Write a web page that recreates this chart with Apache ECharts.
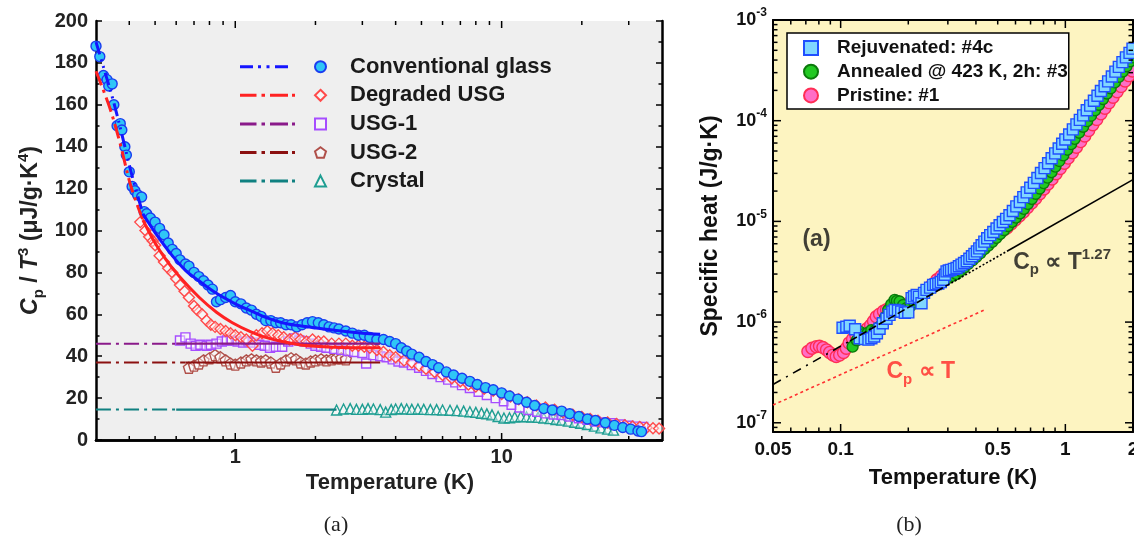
<!DOCTYPE html>
<html><head><meta charset="utf-8">
<script src="https://cdn.jsdelivr.net/npm/echarts@6/dist/echarts.min.js"></script>
<style>html,body{margin:0;padding:0;background:#fff}#c{width:1134px;height:541px}</style>
</head><body><div id="c"></div>
<script>
// ---------------- Panel (a): Cp/T^3 vs T ----------------
const conventionalGlass = [[0.30,188],[0.31,183],[0.32,174],[0.33,172],[0.335,169],[0.345,170],[0.35,160],[0.36,150],[0.37,151],[0.375,148],[0.385,140],[0.39,136],[0.40,128],[0.41,121],[0.42,119],[0.43,117],[0.445,116],[0.455,109],[0.465,108],[0.48,106],[0.50,104],[0.52,101],[0.54,98],[0.56,94],[0.58,91],[0.60,89],[0.62,86],[0.65,84],[0.67,83],[0.70,80],[0.73,78],[0.76,76],[0.79,74],[0.82,72],[0.85,66],[0.88,67],[0.92,68],[0.96,69],[1.0,66],[1.05,65],[1.1,63],[1.15,62],[1.2,60],[1.25,59],[1.3,57],[1.36,57],[1.42,56],[1.48,56],[1.55,55],[1.62,55],[1.7,54],[1.78,55],[1.86,56],[1.95,56.5],[2.05,56],[2.15,55],[2.25,54],[2.35,53.5],[2.45,53],[2.6,52],[2.75,51],[2.9,50],[3.05,50],[3.2,49],[3.4,48],[3.6,48],[3.8,47],[4.0,46],[4.2,44],[4.4,42.5],[4.6,41],[4.9,39.5],[5.2,37.5],[5.5,36],[5.8,34.5],[6.2,32.5],[6.6,31],[7.1,29.5],[7.6,28],[8.1,26.5],[8.7,25],[9.3,24],[10,22.5],[10.7,21],[11.5,19.5],[12.4,18],[13.3,16.5],[14.4,15],[15.5,14.3],[16.8,13.8],[18,12.5],[19.5,11.2],[21,10],[22.5,9.3],[24.5,8.2],[26.5,7.0],[28.5,6.0],[30.5,5.2],[32.5,4.3],[33.5,4.0]];
const degradedUSG = [[0.44,104],[0.46,100],[0.475,97],[0.49,95],[0.50,93],[0.52,88],[0.54,85],[0.56,82],[0.58,80],[0.60,77],[0.62,74],[0.645,71],[0.67,68],[0.70,64],[0.72,62],[0.75,60],[0.78,57],[0.81,55],[0.84,54],[0.88,53],[0.92,52],[0.96,51],[1.0,50],[1.05,49],[1.1,48],[1.16,45],[1.2,50],[1.26,51],[1.32,52],[1.38,51],[1.45,50],[1.52,49],[1.6,48],[1.68,49],[1.76,48],[1.85,47],[1.95,48],[2.05,47],[2.15,47],[2.3,46],[2.45,46],[2.6,46],[2.75,45],[2.9,45],[3.05,44.5],[3.2,44],[3.4,43],[3.6,42],[3.8,40.5],[4.0,39.5],[4.3,38],[4.6,37],[4.9,35.5],[5.2,34],[5.6,32.5],[6.0,31],[6.5,29.5],[7.0,28],[7.5,26.5],[8.0,25.5],[8.6,24.5],[9.3,23.5],[10,22],[10.8,20.8],[11.6,19.5],[12.5,18],[13.5,16.5],[14.6,15.5],[15.8,14.5],[17,13.3],[18.5,12],[20,11],[21.5,10],[23,9.2],[25,8.3],[27,7.6],[29,7],[31,6.5],[33,6.2],[35,5.8],[37,5.6],[39,5.5]];
const usg1 = [[0.62,47.5],[0.65,49],[0.68,46],[0.71,45],[0.74,45.5],[0.78,45],[0.81,45.5],[0.85,46],[0.89,47],[0.93,47.5],[0.97,47.5],[1.02,47],[1.07,46.5],[1.12,47],[1.17,46.5],[1.23,45.5],[1.29,45],[1.35,44],[1.42,44.5],[1.5,44.5],[1.58,47],[1.66,48.5],[1.74,47.5],[1.82,47],[1.92,46],[2.0,45],[2.1,44.5],[2.2,44],[2.35,43.5],[2.5,43],[2.65,42.5],[2.8,42],[3.0,41.5],[3.1,36.5],[3.3,40.5],[3.5,40],[3.7,39.5],[3.9,38.5],[4.1,37.5],[4.3,37],[4.6,35.8],[4.9,34.5],[5.2,33],[5.5,31.5],[5.9,30],[6.3,28.8],[6.7,27.5],[7.1,26.2],[7.6,24.8],[8.2,23],[8.8,21.5],[9.5,20],[10.2,18.5],[10.9,16.8],[11.7,15.5],[12.6,14.3],[13.6,13.5],[14.6,12.7],[15.7,12.2],[16.8,11.9],[18,11.2],[19.5,10.4],[21,9.6],[22.5,8.8],[24,8.4],[26,8],[28,7.4],[30,6.8],[32,6.4],[34,6.2]];
const usg2 = [[0.67,34.5],[0.70,35.5],[0.73,36.5],[0.76,38],[0.80,39],[0.84,40.5],[0.88,39.5],[0.92,38],[0.96,36.5],[1.0,36],[1.05,37],[1.1,38],[1.15,38.5],[1.2,38],[1.25,37.5],[1.3,38],[1.36,37],[1.42,35],[1.48,36.5],[1.55,38],[1.62,39],[1.69,38.5],[1.76,37],[1.84,36.5],[1.92,37.5],[2.0,38],[2.1,38.5],[2.2,38],[2.3,38.5],[2.4,39],[2.5,39],[2.6,38.5]];
const crystal = [[2.4,14.3],[2.55,14.8],[2.7,15],[2.85,14.6],[3.0,14.6],[3.15,15],[3.3,14.8],[3.5,14.5],[3.67,13.3],[3.85,14.5],[4.0,14.8],[4.2,15],[4.4,14.8],[4.6,14.6],[4.85,14.8],[5.1,14.6],[5.4,14.5],[5.7,14.5],[6.0,14.3],[6.4,14.2],[6.8,14],[7.2,13.8],[7.6,13.5],[8.0,13.2],[8.4,12.8],[8.8,12.5],[9.2,12],[9.7,11.2],[10.2,10.5],[10.7,10.6],[11.2,11],[11.8,11.2],[12.4,11.1],[13,11],[13.7,10.8],[14.4,10.5],[15.2,10.2],[16,9.8],[16.8,9.5],[17.8,9],[18.8,8.5],[19.8,8],[21,7.4],[22.3,6.6],[23.6,5.8],[25,5.2],[26.3,4.7]];
// fit lines (extrapolated part drawn dash-dot, fitted part solid)
const glassFitExtrap = [[0.30,190],[0.32,178],[0.35,161],[0.38,143],[0.41,126],[0.45,108]];
const glassFit = [[0.45,108],[0.5,99],[0.58,88],[0.65,81],[0.73,76],[0.85,70],[1.0,65],[1.15,61.5],[1.3,58.5],[1.5,56],[1.75,54.5],[2.0,53.5],[2.5,52],[3.0,51],[3.5,50.5]];
const degradedFitExtrap = [[0.30,176],[0.337,159],[0.367,143],[0.406,121],[0.45,105]];
const degradedFit = [[0.45,105],[0.5,94],[0.55,86],[0.617,78],[0.733,68],[0.85,61],[0.975,56],[1.15,51.5],[1.3,49],[1.5,47],[1.74,45.5],[2.0,44.8],[2.5,44.2],[3.0,44],[3.5,44]];
const usg1FitExtrap = [[0.3,46],[0.6,46]];
const usg1Fit = [[0.6,46],[3.5,46]];
const usg2FitExtrap = [[0.3,37],[0.65,37]];
const usg2Fit = [[0.65,37],[3.5,37]];
const crystalFitExtrap = [[0.3,14.5],[0.6,14.5]];
const crystalFit = [[0.6,14.5],[2.4,14.5]];
const leftNames = ['Conventional glass','Degraded USG','USG-1','USG-2','Crystal'];
const leftXMinorTicks = [0.4,0.5,0.6,0.7,0.8,0.9,2,3,4,5,6,7,8,9,20,30];
const leftXMajorTicks = [1,10];

// ---------------- Panel (b): Cp vs T (log-log) ----------------
const rejuvenated = [[0.102,8.8e-7],[0.106,9.0e-7],[0.1097,9.2e-7],[0.116,8.5e-7],[0.1216,6.9e-7],[0.128,6.8e-7],[0.133,6.7e-7],[0.137,6.9e-7],[0.141,7.2e-7],[0.145,7.75e-7],[0.149,8.6e-7],[0.154,9.75e-7],[0.16,1.08e-6],[0.165,1.18e-6],[0.17,1.27e-6],[0.174,1.32e-6],[0.18,1.3e-6],[0.186,1.27e-6],[0.193,1.24e-6],[0.2,1.25e-6],[0.207,1.73e-6],[0.212,1.8e-6],[0.218,1.86e-6],[0.223,1.78e-6],[0.229,1.54e-6],[0.235,1.95e-6],[0.241,2.09e-6],[0.25,2.2e-6],[0.258,2.34e-6],[0.265,2.38e-6],[0.272,2.42e-6],[0.279,2.5e-6],[0.286,2.63e-6],[0.291,2.95e-6],[0.296,3.19e-6],[0.303,3.25e-6],[0.31,3.3e-6],[0.319,3.38e-6],[0.328,3.45e-6],[0.336,3.58e-6],[0.345,3.72e-6],[0.354,3.86e-6],[0.364,4.02e-6],[0.374,4.25e-6],[0.384,4.5e-6],[0.394,4.76e-6],[0.404,5.04e-6],[0.414,5.4e-6],[0.424,5.8e-6],[0.436,6.3e-6],[0.449,6.8e-6],[0.463,7.3e-6],[0.478,7.85e-6],[0.494,8.5e-6],[0.51,9.15e-6],[0.527,9.85e-6],[0.545,1.06e-5],[0.564,1.15e-5],[0.584,1.27e-5],[0.605,1.41e-5],[0.627,1.56e-5],[0.65,1.74e-5],[0.673,1.94e-5],[0.698,2.16e-5],[0.724,2.41e-5],[0.751,2.7e-5],[0.779,3.02e-5],[0.808,3.38e-5],[0.838,3.78e-5],[0.869,4.23e-5],[0.901,4.74e-5],[0.934,5.3e-5],[0.968,5.9e-5],[1.0,6.5e-5],[1.04,7.3e-5],[1.08,8.2e-5],[1.12,9.2e-5],[1.16,1.02e-4],[1.2,1.13e-4],[1.245,1.27e-4],[1.29,1.41e-4],[1.34,1.58e-4],[1.39,1.77e-4],[1.44,1.97e-4],[1.495,2.2e-4],[1.55,2.46e-4],[1.61,2.75e-4],[1.67,3.07e-4],[1.73,3.42e-4],[1.795,3.82e-4],[1.86,4.25e-4],[1.93,4.72e-4],[1.99,5.2e-4]];
const annealed = [[0.113,5.7e-7],[0.118,6.6e-7],[0.122,8.0e-7],[0.127,7.6e-7],[0.132,7.8e-7],[0.137,8.3e-7],[0.142,8.2e-7],[0.147,8.8e-7],[0.152,9.4e-7],[0.158,1.12e-6],[0.163,1.32e-6],[0.168,1.5e-6],[0.174,1.66e-6],[0.178,1.62e-6],[0.183,1.6e-6],[0.19,1.48e-6],[0.196,1.37e-6],[0.205,1.45e-6],[0.212,1.58e-6],[0.218,1.66e-6],[0.226,1.78e-6],[0.235,1.9e-6],[0.245,2.05e-6],[0.255,2.2e-6],[0.265,2.33e-6],[0.277,2.48e-6],[0.29,2.62e-6],[0.302,2.75e-6],[0.315,2.88e-6],[0.328,3.0e-6],[0.341,3.22e-6],[0.355,3.48e-6],[0.37,3.78e-6],[0.386,4.1e-6],[0.402,4.45e-6],[0.419,4.85e-6],[0.436,5.3e-6],[0.454,5.75e-6],[0.473,6.25e-6],[0.493,6.85e-6],[0.513,7.5e-6],[0.534,8.2e-6],[0.556,9.0e-6],[0.579,9.9e-6],[0.603,1.09e-5],[0.628,1.2e-5],[0.654,1.33e-5],[0.681,1.49e-5],[0.709,1.67e-5],[0.738,1.88e-5],[0.768,2.12e-5],[0.8,2.4e-5],[0.833,2.72e-5],[0.867,3.08e-5],[0.903,3.5e-5],[0.94,3.98e-5],[0.979,4.52e-5],[1.02,5.15e-5],[1.06,5.85e-5],[1.1,6.6e-5],[1.15,7.6e-5],[1.2,8.7e-5],[1.25,9.9e-5],[1.3,1.12e-4],[1.355,1.27e-4],[1.41,1.44e-4],[1.47,1.64e-4],[1.53,1.86e-4],[1.59,2.1e-4],[1.66,2.4e-4],[1.73,2.73e-4],[1.8,3.08e-4],[1.87,3.47e-4],[1.94,3.88e-4],[2.0,4.25e-4]];
const pristine = [[0.0715,5.1e-7],[0.0745,5.5e-7],[0.0779,5.7e-7],[0.0805,5.75e-7],[0.0834,5.6e-7],[0.0865,5.3e-7],[0.0893,5.0e-7],[0.0925,4.7e-7],[0.0956,4.55e-7],[0.099,4.7e-7],[0.103,5.0e-7],[0.106,5.5e-7],[0.109,6.2e-7],[0.113,6.8e-7],[0.117,7.3e-7],[0.121,7.7e-7],[0.126,8.05e-7],[0.131,8.6e-7],[0.136,9.3e-7],[0.14,1.02e-6],[0.144,1.13e-6],[0.149,1.2e-6],[0.155,1.28e-6],[0.16,1.33e-6],[0.165,1.37e-6],[0.172,1.42e-6],[0.18,1.45e-6],[0.188,1.47e-6],[0.196,1.48e-6],[0.205,1.6e-6],[0.214,1.72e-6],[0.223,1.83e-6],[0.233,1.94e-6],[0.243,2.1e-6],[0.255,2.35e-6],[0.268,2.63e-6],[0.28,2.85e-6],[0.292,3.02e-6],[0.305,3.12e-6],[0.318,3.22e-6],[0.331,3.33e-6],[0.345,3.55e-6],[0.36,3.85e-6],[0.375,4.15e-6],[0.39,4.49e-6],[0.407,4.9e-6],[0.425,5.35e-6],[0.444,5.8e-6],[0.463,6.3e-6],[0.483,6.85e-6],[0.504,7.45e-6],[0.526,8.05e-6],[0.549,8.6e-6],[0.573,9.4e-6],[0.598,1.03e-5],[0.624,1.13e-5],[0.651,1.24e-5],[0.679,1.37e-5],[0.708,1.52e-5],[0.738,1.69e-5],[0.77,1.88e-5],[0.803,2.1e-5],[0.837,2.35e-5],[0.873,2.64e-5],[0.91,2.97e-5],[0.949,3.35e-5],[0.99,3.78e-5],[1.03,4.25e-5],[1.075,4.8e-5],[1.12,5.45e-5],[1.17,6.2e-5],[1.22,7.05e-5],[1.27,8.0e-5],[1.325,9.1e-5],[1.38,1.03e-4],[1.44,1.17e-4],[1.5,1.33e-4],[1.565,1.51e-4],[1.63,1.71e-4],[1.7,1.94e-4],[1.77,2.19e-4],[1.845,2.48e-4],[1.92,2.8e-4],[1.99,3.12e-4]];
const powerLawDashDot = [[0.05,2.4e-7],[0.11,6.5e-7]];
const powerLawDashed = [[0.11,6.5e-7],[0.3,2.34e-6]];
const powerLawDotted = [[0.3,2.34e-6],[0.55,5.05e-6]];
const powerLawSolid = [[0.55,5.05e-6],[2,2.6e-5]];
const linearLaw = [[0.05,1.5e-7],[0.44,1.33e-6]];
const rightNames = ['Rejuvenated: #4c','Annealed @ 423 K, 2h: #3','Pristine: #1'];
const rightXMinorTicks = [0.06,0.07,0.08,0.09,0.2,0.3,0.4,0.5,0.6,0.7,0.8,0.9];
const rightXMajorTicks = [0.1,1];
const rightXTickLabels = ['0.05','0.1','0.5','1','2'];
const rightYMajorTicks = [1e-7,1e-6,1e-5,1e-4];
const rightYMinorMantissas = [2,3,4,5,6,7,8,9];
const rightYMinorExponents = [-7,-6,-5,-4];
const annotationTexts = ['{c|C}{sub|p}{c| \u221D T}{sup|1.27}', '{c|C}{sub|p}{c| \u221D T}', '{a|(a)}'];
const annotationPoints = [[0.586,3.88e-6],[0.16,3.2e-7],[0.0676,6.57e-6]];
const annotationColors = ['#111','#ff2626','#111'];

const LX=[0.3,40], LY=[0,200], RX=[0.05,2], RY=[8.1e-8,1e-3];
const SANS='"Liberation Sans", Arial, Helvetica, sans-serif';
const rightYMinorTicks=[9e-8];
rightYMinorExponents.forEach(e=>rightYMinorMantissas.forEach(m=>rightYMinorTicks.push(+(m+'e'+e))));

function tickSeries(xi, yi, xMinor, xMajor, yMinor, yMajor, xBase, yBase, minorLen, majorLen, lw){
  const data=[];
  xMinor.forEach(v=>data.push([v,yBase,0]));
  xMajor.forEach(v=>data.push([v,yBase,1]));
  yMinor.forEach(v=>data.push([xBase,v,2]));
  yMajor.forEach(v=>data.push([xBase,v,3]));
  return {type:'custom', xAxisIndex:xi, yAxisIndex:yi, silent:true, clip:false, z:10, encode:{x:0,y:1}, data,
    renderItem:function(params, api){
      const cs=params.coordSys, k=api.value(2);
      const p=api.coord([api.value(0), api.value(1)]);
      const L=(k===1||k===3)?majorLen:minorLen;
      const st={stroke:'#000', lineWidth:lw};
      let a,b;
      if(k<2){ const x=p[0];
        a={x1:x,y1:cs.y+cs.height,x2:x,y2:cs.y+cs.height-L};
        b={x1:x,y1:cs.y,x2:x,y2:cs.y+L};
      } else { const y=p[1];
        a={x1:cs.x,y1:y,x2:cs.x+L,y2:y};
        b={x1:cs.x+cs.width,y1:y,x2:cs.x+cs.width-L,y2:y};
      }
      return {type:'group', children:[{type:'line',shape:a,style:st},{type:'line',shape:b,style:st}]};
    }};
}

const pentagon='path://M0,-1 L0.951,-0.309 L0.588,0.809 L-0.588,0.809 L-0.951,-0.309 Z';
const openFill='rgba(255,255,255,0.45)';
function scatterL(name, data, symbol, size, fill, border, z){
  return {type:'scatter', name, xAxisIndex:0, yAxisIndex:0, data, symbol, symbolSize:size, z:z||2, silent:true,
    itemStyle:{color:fill, borderColor:border, borderWidth:1.4, opacity:1}};
}
function lineL(name, data, color, width, dash, z){
  return {type:'line', name, xAxisIndex:0, yAxisIndex:0, data, symbol:'none', smooth:0.35, z:z||4, silent:true,
    lineStyle:{color, width, type:dash}, itemStyle:{color}};
}
function lineR(name, data, color, width, dash){
  return {type:'line', name, xAxisIndex:2, yAxisIndex:2, data, symbol:'none', z:6, silent:true,
    lineStyle:{color, width, type:dash}, itemStyle:{color}};
}
function scatterR(name, data, symbol, size, fill, border, z){
  return {type:'scatter', name, xAxisIndex:2, yAxisIndex:2, data, symbol, symbolSize:size, z, silent:true,
    itemStyle:{color:fill, borderColor:border, borderWidth:1.4, opacity:1}};
}

const DD=[13,5,2,5,2,5], DDOT=[15,5,3,5];
// legend icons: dash patterns of the fit lines (width 55, height 3)
const ICON_DDOT='path://M0,0h13v3h-13Z M18,0h3v3h-3Z M26.5,0h3v3h-3Z M35,0h13v3h-13Z M54.9,1h0.1v0.1h-0.1Z';
const ICON_DOT='path://M0,0h16.5v3h-16.5Z M21.5,0h3.5v3h-3.5Z M30,0h18v3h-18Z M52,0h3v3h-3Z';
const fitNames=leftNames.map(n=>n+' fit');
const fitLegend=fitNames.map((n,i)=>({name:n, icon: i===0?ICON_DDOT:ICON_DOT}));

const chart=echarts.init(document.getElementById('c'), null, {renderer:'canvas'});
chart.setOption({
  animation:false,
  backgroundColor:'#fff',
  grid:[
    {left:96, top:21, width:566, height:419, show:true, backgroundColor:'#efefef', borderWidth:0},
    {left:773, top:20, width:360, height:412, show:true, backgroundColor:'#fdf4c1', borderWidth:0}
  ],
  xAxis:[
    {gridIndex:0, type:'log', logBase:10, min:LX[0], max:LX[1], position:'bottom',
     axisLine:{lineStyle:{color:'#000', width:2.5}}, axisTick:{show:false}, splitLine:{show:false},
     axisLabel:{fontFamily:SANS, fontSize:20, fontWeight:'bold', color:'#222', margin:7,
       formatter:v=>{const e=Math.log10(v); return Math.abs(e-Math.round(e))<1e-6 ? String(v) : '';}},
     name:'Temperature (K)', nameLocation:'middle', nameGap:26,
     nameTextStyle:{fontFamily:SANS, fontSize:22, fontWeight:'bold', color:'#222', padding:[0,0,0,22]}},
    {gridIndex:0, type:'log', logBase:10, min:LX[0], max:LX[1], position:'top',
     axisLine:{lineStyle:{color:'#000', width:2.5}}, axisTick:{show:false}, axisLabel:{show:false}, splitLine:{show:false}},
    {gridIndex:1, type:'log', logBase:10, min:RX[0], max:RX[1], position:'bottom',
     axisLine:{lineStyle:{color:'#000', width:2}}, axisTick:{show:false}, axisLabel:{show:false}, splitLine:{show:false},
     name:'Temperature (K)', nameLocation:'middle', nameGap:35,
     nameTextStyle:{fontFamily:SANS, fontSize:22, fontWeight:'bold', color:'#111'}},
    {gridIndex:1, type:'log', logBase:10, min:RX[0], max:RX[1], position:'top',
     axisLine:{lineStyle:{color:'#000', width:2}}, axisTick:{show:false}, axisLabel:{show:false}, splitLine:{show:false}}
  ],
  yAxis:[
    {gridIndex:0, type:'value', min:LY[0], max:LY[1], interval:20, position:'left',
     axisLine:{show:true, lineStyle:{color:'#000', width:2.5}},
     axisTick:{show:true, inside:true, length:6, lineStyle:{color:'#000', width:1.5}},
     minorTick:{show:true, splitNumber:2, length:3.5, lineStyle:{color:'#000', width:1.5}},
     splitLine:{show:false},
     axisLabel:{fontFamily:SANS, fontSize:20, fontWeight:'bold', color:'#222', margin:8},
     name:'{i|C}{sub|p}{n| / }{i|T}{sup|3}{n| (\u03BCJ/g\u00B7K}{sup|4}{n|)}', nameLocation:'middle', nameGap:50, nameRotate:90,
     nameTextStyle:{color:'#222', padding:[0,0,0,0], rich:{
       n:{fontFamily:SANS, fontSize:23, fontWeight:'bold', color:'#222', lineHeight:30, verticalAlign:'middle'},
       i:{fontFamily:SANS, fontSize:23, fontWeight:'bold', fontStyle:'italic', color:'#222', lineHeight:30, verticalAlign:'middle'},
       sub:{fontFamily:SANS, fontSize:15, fontWeight:'bold', color:'#222', lineHeight:14, verticalAlign:'bottom'},
       sup:{fontFamily:SANS, fontSize:15, fontWeight:'bold', color:'#222', lineHeight:14, verticalAlign:'top'}}}},
    {gridIndex:0, type:'value', min:LY[0], max:LY[1], interval:20, position:'right',
     axisLine:{show:true, lineStyle:{color:'#000', width:2.5}},
     axisTick:{show:true, inside:true, length:6, lineStyle:{color:'#000', width:1.5}},
     minorTick:{show:true, splitNumber:2, length:3.5, lineStyle:{color:'#000', width:1.5}},
     splitLine:{show:false}, axisLabel:{show:false}},
    {gridIndex:1, type:'log', logBase:10, min:RY[0], max:RY[1], position:'left',
     axisLine:{show:true, lineStyle:{color:'#000', width:2}}, axisTick:{show:false}, splitLine:{show:false},
     axisLabel:{margin:6, formatter:v=>{const e=Math.log10(v); const r=Math.round(e); return Math.abs(e-r)<1e-6 ? '{b|10}{s|'+r+'}' : '';},
       rich:{b:{fontFamily:SANS, fontSize:18, fontWeight:'bold', color:'#111', lineHeight:26, verticalAlign:'middle'},
             s:{fontFamily:SANS, fontSize:12, fontWeight:'bold', color:'#111', lineHeight:16, verticalAlign:'top'}}},
     name:'Specific heat (J/g\u00B7K)', nameLocation:'middle', nameGap:51, nameRotate:90,
     nameTextStyle:{fontFamily:SANS, fontSize:23, fontWeight:'bold', color:'#111'}},
    {gridIndex:1, type:'log', logBase:10, min:RY[0], max:RY[1], position:'right',
     axisLine:{show:true, lineStyle:{color:'#000', width:2}}, axisTick:{show:false}, axisLabel:{show:false}, splitLine:{show:false}}
  ],
  legend:[
    {data:fitLegend, orient:'vertical', left:240, top:55.7, padding:0, itemWidth:55, itemHeight:12, itemGap:6.6,
     formatter:()=>' ', selectedMode:false, symbolKeepAspect:true,
     textStyle:{fontFamily:SANS, fontSize:22, fontWeight:'bold'}},
    {data:leftNames, orient:'vertical', left:314, top:55.7, padding:0, itemWidth:11, itemHeight:11, itemGap:6.6,
     selectedMode:false, textStyle:{fontFamily:SANS, fontSize:22, fontWeight:'bold', color:'#1a1a1a', padding:[0,0,0,19]}},
    {data:rightNames, orient:'vertical', left:787, top:33, itemWidth:14, itemHeight:14, itemGap:4.7,
     backgroundColor:'#fff', borderColor:'#000', borderWidth:1.5, padding:[5.5,1,4,16], borderRadius:0,
     selectedMode:false, textStyle:{fontFamily:SANS, fontSize:19, fontWeight:'bold', color:'#111', padding:[0,0,0,14]}}
  ],
  graphic:[
    {type:'text', x:336, y:525, style:{text:'(a)', font:'22px "Liberation Serif", "Times New Roman", serif', fill:'#222', textAlign:'center', textVerticalAlign:'middle', align:'center', verticalAlign:'middle'}},
    {type:'text', x:909, y:525, style:{text:'(b)', font:'22px "Liberation Serif", "Times New Roman", serif', fill:'#222', textAlign:'center', textVerticalAlign:'middle', align:'center', verticalAlign:'middle'}}
  ],
  series:[
    // panel (a) markers
    scatterL('Crystal', crystal, 'triangle', 10, openFill, '#1f9e92', 2),
    scatterL('USG-2', usg2, pentagon, 11, openFill, '#b0504a', 2),
    scatterL('USG-1', usg1, 'rect', 9, openFill, '#a64dff', 2),
    scatterL('Degraded USG', degradedUSG, 'diamond', 11, openFill, '#ff4a4a', 2),
    scatterL('Conventional glass', conventionalGlass, 'circle', 10, '#2fc6f6', '#1a3cf0', 3),
    // panel (a) fit lines
    lineL(fitNames[4], crystalFitExtrap, '#0f8080', 2, DDOT, 4),
    lineL('crystal solid', crystalFit, '#0f8080', 2.2, 'solid', 4),
    lineL(fitNames[3], usg2FitExtrap, '#8b1010', 2, DDOT, 4),
    lineL('usg2 solid', usg2Fit, '#8b1010', 2.2, 'solid', 4),
    lineL(fitNames[2], usg1FitExtrap, '#8a1a8a', 2, DDOT, 4),
    lineL('usg1 solid', usg1Fit, '#8a1a8a', 2.2, 'solid', 4),
    lineL(fitNames[1], degradedFitExtrap, '#ff2222', 3, DDOT, 5),
    lineL('degraded solid', degradedFit, '#ff2222', 3, 'solid', 5),
    lineL(fitNames[0], glassFitExtrap, '#1515ff', 3, DD, 5),
    lineL('glass solid', glassFit, '#1515ff', 3, 'solid', 5),
    tickSeries(0, 0, leftXMinorTicks, leftXMajorTicks, [], [], LX[0], LY[0], 4, 7, 1.5),
    // panel (b)
    scatterR(rightNames[2], pristine, 'circle', 12, '#ff6ec7', '#ff2e55', 2),
    scatterR(rightNames[1], annealed, 'circle', 11, '#22c922', '#0b7a0b', 3),
    scatterR(rightNames[0], rejuvenated, 'rect', 11, '#80d6ff', '#1f4fff', 4),
    lineR('pl1', powerLawDashDot, '#000', 1.6, [9,6,2,6]),
    lineR('pl2', powerLawDashed, '#000', 1.6, [8,3]),
    lineR('pl3', powerLawDotted, '#000', 1.6, [2,2]),
    lineR('pl4', powerLawSolid, '#000', 1.6, 'solid'),
    lineR('lin', linearLaw, '#ff3030', 1.6, [3,3]),
    tickSeries(2, 2, rightXMinorTicks, rightXMajorTicks, rightYMinorTicks, rightYMajorTicks, RX[0], RY[0], 4.5, 8, 1.5),
    {type:'custom', xAxisIndex:2, yAxisIndex:2, silent:true, clip:false, z:10, encode:{x:0,y:1},
     data:rightXTickLabels.map(s=>[parseFloat(s), RY[0]]),
     renderItem:function(params, api){
       const cs=params.coordSys; const v=api.value(0); const p=api.coord([v, api.value(1)]);
       return {type:'text', x:p[0], y:cs.y+cs.height+18, style:{text:String(v), fill:'#111', font:'bold 19px '+SANS,
         textAlign:'center', textVerticalAlign:'middle', align:'center', verticalAlign:'middle'}};
     }},
    {type:'scatter', name:'annotations', xAxisIndex:2, yAxisIndex:2, symbolSize:0, silent:true, z:12,
     data:annotationPoints.map((p,i)=>({value:p, label:{formatter:annotationTexts[i], color:annotationColors[i]}})),
     label:{show:true, position:'right', distance:0, rich:{
       c:{fontFamily:SANS, fontSize:23, fontWeight:'bold', lineHeight:30, verticalAlign:'middle'},
       a:{fontFamily:SANS, fontSize:23, fontWeight:'bold', lineHeight:30, verticalAlign:'middle'},
       sub:{fontFamily:SANS, fontSize:15, fontWeight:'bold', lineHeight:14, verticalAlign:'bottom'},
       sup:{fontFamily:SANS, fontSize:15, fontWeight:'bold', lineHeight:14, verticalAlign:'top'}}}}
  ]
});
</script></body></html>
